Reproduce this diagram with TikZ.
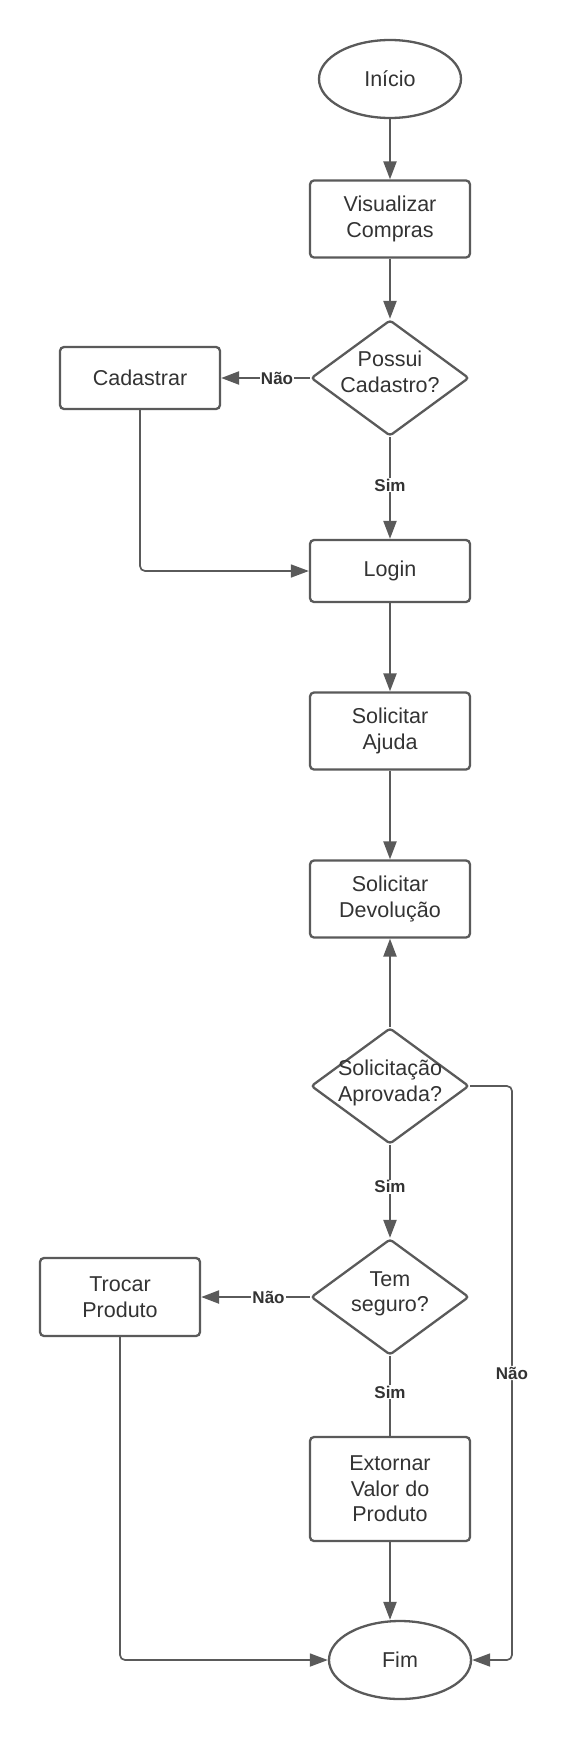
\documentclass[tikz,border=0pt]{standalone}
\usepackage{fontspec}
\setmainfont{Liberation Sans}
\usetikzlibrary{shapes.geometric,arrows.meta}
\definecolor{ln}{RGB}{90,90,90}
\definecolor{tx}{RGB}{51,51,51}
\tikzset{
  txt/.style={text=tx, align=center, font=\fontsize{21.5}{25.5}\selectfont},
  box/.style={txt, draw=ln, line width=2.3pt, rounded corners=4pt, minimum width=160pt, inner sep=0pt},
  term/.style={txt, draw=ln, ellipse, line width=2.3pt, minimum width=142pt, minimum height=78pt, inner sep=0pt},
  dec/.style={draw=ln, diamond, line width=2.3pt, rounded corners=3pt, minimum width=158pt, minimum height=116pt, inner sep=0pt},
  conn/.style={draw=ln, line width=2.3pt, -{Triangle[length=18pt,width=13pt]}},
  plain/.style={draw=ln, line width=2.3pt},
  thinc/.style={draw=ln, line width=1.7pt, rounded corners=5pt, -{Triangle[length=18pt,width=13pt]}},
  lbl/.style={fill=white, text=tx, font=\bfseries\fontsize{17}{19}\selectfont, inner sep=1pt},
}
\begin{document}
\begin{tikzpicture}[x=1pt,y=-1pt]
\useasboundingbox (0,0) rectangle (568,1740);
\fill[white] (0,0) rectangle (568,1740);

\node[term] (ini) at (390,79) {Início};
\node[box, minimum height=77pt] (vis) at (390,219) {Visualizar\\Compras};
\node[dec, label={[txt, yshift=6pt]center:Possui\\Cadastro?}] (pos) at (390,378) {};
\node[box, minimum height=62pt] (cad) at (140,378) {Cadastrar};
\node[box, minimum height=62pt] (log) at (390,571) {Login};
\node[box, minimum height=77pt] (aju) at (390,731) {Solicitar\\Ajuda};
\node[box, minimum height=77pt] (dev) at (390,899) {Solicitar\\Devolução};
\node[dec, label={[txt, yshift=3pt]center:Solicitação\\Aprovada?}] (sol) at (390,1086) {};
\node[dec, label={[txt, yshift=3pt]center:Tem\\seguro?}] (tem) at (390,1297) {};
\node[box, minimum height=78pt] (tro) at (120,1297) {Trocar\\Produto};
\node[box, minimum height=104pt] (ext) at (390,1489) {Extornar\\Valor do\\Produto};
\node[term] (fim) at (400,1660) {Fim};

\coordinate (r1) at (512,1086);
\coordinate (r2) at (512,1660);

\draw[conn] (ini) -- (vis);
\draw[conn] (vis) -- (pos);
\draw[conn] (pos.west) -- node[lbl, pos=0.37] {Não} (cad.east);
\draw[conn] (pos.south) -- node[lbl, pos=0.47] {Sim} (log.north);
\draw[thinc] (cad.south) |- (log.west);
\draw[conn] (log) -- (aju);
\draw[conn] (aju) -- (dev);
\draw[conn] (sol.north) -- (dev.south);
\draw[conn] (sol.south) -- node[lbl, pos=0.45] {Sim} (tem.north);
\draw[conn] (tem.west) -- node[lbl, pos=0.38] {Não} (tro.east);
\draw[plain] (tem.south) -- node[lbl, pos=0.45] {Sim} (ext.north);
\draw[conn] (ext.south) -- (ext.south |- fim.north);
\draw[thinc] (tro.south) |- (fim.west);
\draw[thinc] (sol.east) -- (r1) -- node[lbl] {Não} (r2) -- (fim.east);
\end{tikzpicture}
\end{document}
